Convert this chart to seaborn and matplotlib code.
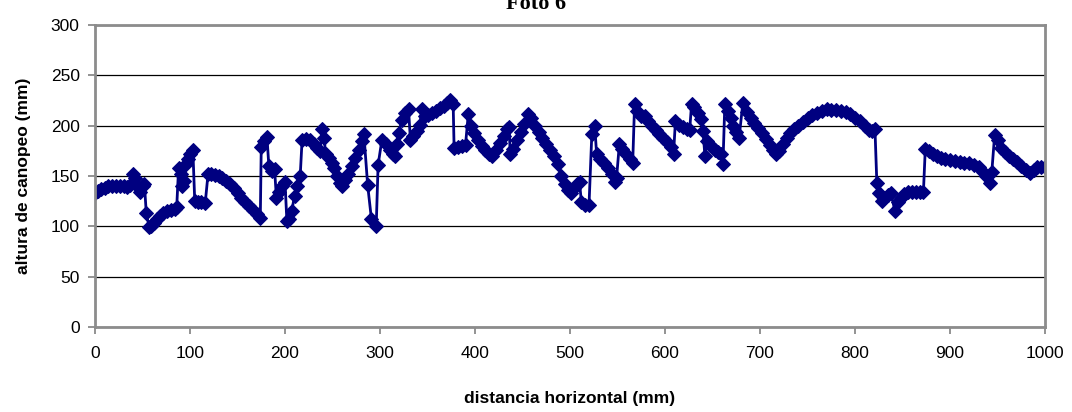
import matplotlib
matplotlib.use("Agg")
import matplotlib.pyplot as plt
import seaborn as sns

# profile (mm)
distancia = [
    0, 3, 6, 10, 14, 18, 22, 26, 30, 34, 37, 40, 42, 44, 47, 50, 52, 54, 57, 59,
    62, 65, 68, 72, 76, 80, 84, 86, 88, 90, 92, 94, 96, 98, 100, 103, 105, 108, 112, 116,
    119, 122, 126, 130, 134, 138, 142, 146, 150, 154, 158, 162, 166, 170, 174, 175, 178, 181, 183, 186,
    189, 191, 194, 197, 200, 202, 204, 207, 210, 213, 216, 218, 222, 226, 230, 234, 237, 239, 241, 243,
    246, 249, 252, 255, 258, 260, 263, 266, 270, 274, 278, 281, 283, 287, 291, 296, 298, 302, 306, 310,
    314, 316, 318, 320, 323, 326, 330, 332, 335, 339, 342, 344, 347, 351, 355, 359, 363, 367, 371, 374,
    377, 378, 382, 386, 390, 393, 396, 399, 403, 407, 411, 415, 418, 422, 426, 430, 434, 436, 437, 440,
    444, 448, 452, 456, 459, 463, 467, 471, 475, 479, 483, 487, 491, 495, 498, 501, 504, 507, 510, 512,
    516, 520, 523, 526, 528, 532, 536, 540, 544, 547, 549, 552, 555, 559, 563, 566, 568, 571, 575, 579,
    582, 586, 590, 594, 598, 602, 606, 609, 611, 615, 619, 623, 626, 628, 631, 635, 638, 640, 642, 644,
    647, 650, 653, 656, 659, 661, 663, 666, 669, 672, 675, 678, 682, 686, 690, 694, 698, 702, 706, 710,
    714, 717, 720, 724, 728, 732, 736, 740, 745, 750, 755, 760, 765, 770, 775, 780, 785, 790, 795, 800,
    805, 810, 815, 818, 821, 823, 825, 828, 831, 835, 838, 842, 845, 848, 852, 856, 860, 864, 868, 872,
    874, 878, 882, 886, 890, 895, 900, 905, 910, 915, 920, 925, 930, 935, 938, 942, 944, 947, 950, 954,
    958, 962, 966, 970, 975, 980, 984, 988, 992, 996, 1000,
]
altura = [
    133, 135, 137, 138, 140, 140, 140, 140, 140, 139, 141, 152, 148, 140, 134, 140, 142, 113, 99, 100,
    103, 107, 110, 113, 115, 116, 117, 119, 158, 152, 140, 145, 162, 167, 172, 176, 125, 124, 124, 123,
    152, 152, 151, 150, 148, 145, 142, 138, 133, 128, 124, 120, 116, 112, 108, 179, 185, 189, 160, 155,
    157, 128, 134, 140, 144, 105, 107, 115, 130, 140, 150, 186, 187, 186, 182, 178, 175, 197, 188, 172,
    168, 163, 158, 150, 143, 140, 146, 152, 160, 168, 176, 185, 192, 141, 107, 100, 161, 186, 182, 176,
    172, 170, 182, 193, 206, 213, 217, 186, 190, 195, 201, 217, 210, 211, 213, 215, 218, 220, 223, 225,
    222, 178, 179, 180, 181, 212, 200, 193, 186, 180, 176, 172, 170, 176, 183, 190, 197, 199, 172, 177,
    186, 194, 202, 212, 208, 200, 194, 188, 182, 176, 170, 162, 150, 142, 136, 133, 138, 142, 144, 124,
    121, 121, 192, 200, 172, 167, 163, 158, 152, 144, 148, 182, 177, 172, 167, 163, 222, 215, 210, 210,
    205, 200, 196, 192, 188, 184, 179, 172, 205, 201, 199, 197, 196, 222, 219, 213, 207, 195, 170, 185,
    181, 178, 176, 174, 172, 162, 222, 215, 208, 200, 194, 188, 223, 214, 208, 203, 198, 193, 187, 181,
    176, 172, 175, 182, 188, 193, 197, 200, 204, 208, 211, 213, 215, 217, 216, 216, 215, 214, 212, 208,
    205, 200, 196, 195, 197, 143, 133, 125, 128, 131, 133, 115, 124, 128, 132, 134, 134, 134, 134, 134,
    177, 175, 172, 170, 168, 167, 166, 165, 164, 163, 163, 161, 159, 154, 150, 143, 154, 191, 186, 178,
    174, 170, 167, 164, 160, 156, 153, 156, 159, 159, 159,
]

x_ticks = list(range(0, 1001, 100))
y_ticks = list(range(0, 301, 50))

sns.set_style("white")
plt.rcParams["font.family"] = ["Liberation Sans", "DejaVu Sans"]
plt.rcParams["text.color"] = "black"
plt.rcParams["axes.labelcolor"] = "black"
plt.rcParams["xtick.color"] = "black"
plt.rcParams["ytick.color"] = "black"

fig = plt.figure(figsize=(10.72, 4.12), dpi=100)
ax = fig.add_axes([95 / 1072, 1 - 327 / 412, 950 / 1072, 302 / 412])

sns.lineplot(
    x=distancia,
    y=altura,
    ax=ax,
    sort=False,
    color="#000080",
    linewidth=2,
    marker="D",
    markersize=7,
    markeredgecolor="#000080",
    markerfacecolor="#000080",
)

ax.set_xlim(0, 1000)
ax.set_ylim(0, 300)
ax.set_xticks(x_ticks)
ax.set_yticks(y_ticks)
ax.tick_params(axis="both", labelsize=12.5, direction="out", length=5,
               color="#808080", labelcolor="black", width=1.2, pad=6)
ax.tick_params(axis="x", bottom=True, pad=9)
ax.tick_params(axis="y", left=True)

ax.grid(axis="y", color="black", linewidth=0.9)
ax.set_axisbelow(True)
for side in ["top", "right", "left", "bottom"]:
    ax.spines[side].set_visible(True)
    ax.spines[side].set_color("#8c8c8c")
    ax.spines[side].set_linewidth(2)

ax.set_xlabel("distancia horizontal (mm)", fontsize=12.5, fontweight="bold",
              labelpad=21, color="black")
ax.set_ylabel("altura de canopeo (mm)", fontsize=12.5, fontweight="bold",
              labelpad=14, color="black")

# title sits partly above the canvas, as in the reference
fig.text(0.5, 1 - 9 / 412, "Foto 6", ha="center", va="baseline",
         fontsize=16, fontweight="bold", color="black",
         family=["Liberation Serif", "DejaVu Serif"])

fig.savefig("out.png", dpi=100, facecolor="white")
